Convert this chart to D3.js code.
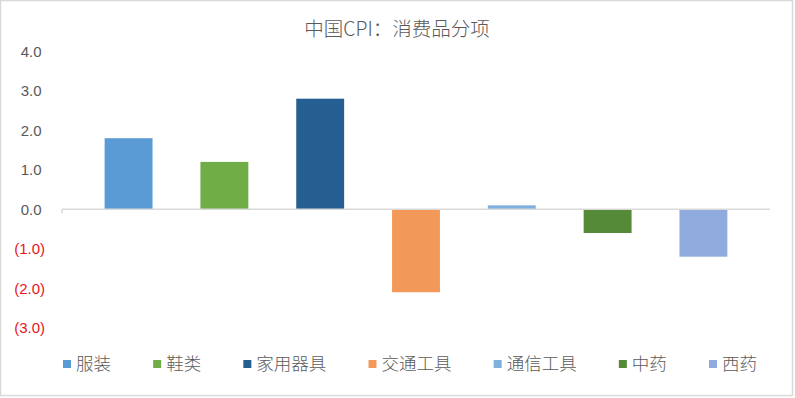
<!DOCTYPE html>
<html><head><meta charset="utf-8">
<script src="https://cdn.jsdelivr.net/npm/d3@7"></script>
<style>
html,body{margin:0;padding:0;background:#fff;}
svg{display:block;font-family:"Noto Sans CJK SC","Liberation Sans",sans-serif;}
</style></head>
<body>
<svg id="chart" width="795" height="398"></svg>
<script>
const title = "中国CPI：消费品分项";
const categories = ["服装","鞋类","家用器具","交通工具","通信工具","中药","西药"];
const values = [1.8, 1.2, 2.8, -2.1, 0.1, -0.6, -1.2];
const colors = ["#5b9bd5","#70ad47","#255e91","#f2995a","#7fb0de","#548a38","#8faadc"];
const yTicks = [-3, -2, -1, 0, 1, 2, 3, 4];

const svg = d3.select("#chart");
const W = 795, H = 398;
svg.append("rect").attr("x",0.5).attr("y",0.5).attr("width",W-3).attr("height",H-3)
  .attr("fill","#fff").attr("stroke","#d9d9d9").attr("stroke-width",1.5);

const plotLeft = 62, plotRight = 770;
const y = d3.scaleLinear().domain([-3, 4]).range([327.8, 51.3]);
const x = d3.scaleBand().domain(categories).range([plotLeft, plotRight])
  .paddingInner(0.5).paddingOuter(0.445);

// title
svg.append("text").attr("x", 397).attr("y", 36).attr("text-anchor","middle")
  .attr("font-size", 19.5).attr("font-weight", 300).attr("fill","#595959").text(title);

// y tick labels
const fmt = d3.format(".1f");
svg.append("g").selectAll("text").data(yTicks).join("text")
  .attr("x", d => d < 0 ? 45 : 41.5)
  .attr("y", d => y(d))
  .attr("dy", "0.35em")
  .attr("text-anchor","end")
  .attr("font-family","Liberation Sans, Arial, sans-serif")
  .attr("font-size", 15)
  .attr("fill", d => d < 0 ? "#e8141c" : "#595959")
  .text(d => d < 0 ? "(" + fmt(-d) + ")" : fmt(d));

// bars
svg.append("g").selectAll("rect").data(values).join("rect")
  .attr("x", (d,i) => x(categories[i]))
  .attr("width", x.bandwidth())
  .attr("y", d => y(Math.max(0, d)))
  .attr("height", d => Math.abs(y(d) - y(0)))
  .attr("fill", (d,i) => colors[i]);

// zero axis line
svg.append("line").attr("x1", plotLeft).attr("x2", plotRight)
  .attr("y1", y(0)).attr("y2", y(0))
  .attr("stroke","#d9d9d9").attr("stroke-width",1.5);
svg.append("line").attr("x1", plotLeft).attr("x2", plotLeft)
  .attr("y1", y(0)).attr("y2", y(0)+4)
  .attr("stroke","#d9d9d9").attr("stroke-width",1.5);

// legend
const lg = svg.append("g");
const items = lg.selectAll("g").data(categories).join("g");
items.append("rect").attr("width",8).attr("height",8).attr("y",-4)
  .attr("fill",(d,i)=>colors[i]);
items.append("text").attr("x",13).attr("dy","0.35em")
  .attr("font-size",17.5).attr("font-weight",300).attr("fill","#595959").text(d=>d);
const widths = [];
items.each(function(){ widths.push(13 + d3.select(this).select("text").node().getComputedTextLength()); });
const lgStart = 63, lgEnd = 757;
const gap = (lgEnd - lgStart - d3.sum(widths)) / (widths.length - 1);
let cx = lgStart;
items.attr("transform",(d,i)=>{ const t = `translate(${cx},364)`; cx += widths[i] + gap; return t; });
</script>
</body></html>
